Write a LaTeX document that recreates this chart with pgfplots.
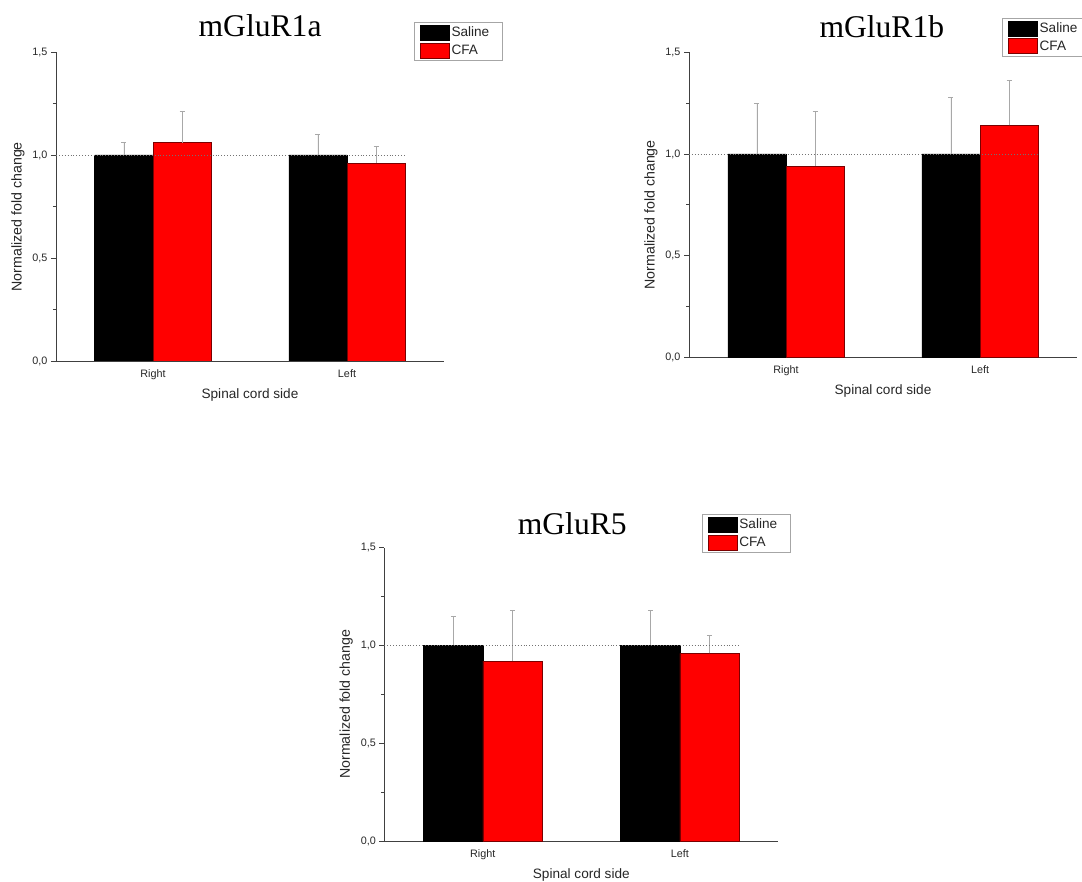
\documentclass[border=0pt]{standalone}
\usepackage{fontspec}
\setmainfont{Liberation Sans}
\newfontfamily\timesf{Liberation Serif}
\usepackage{pgfplots}
\pgfplotsset{compat=1.18}
\usepackage{pgfplotstable}

\definecolor{axisgray}{HTML}{404040}
\definecolor{errgray}{HTML}{A8A8A8}
\definecolor{barred}{HTML}{FF0000}
\definecolor{edgered}{HTML}{7A0000}

% mGluR1a
\pgfplotstableread{
x y e
0 1.00 0.06
1 1.00 0.10
}\salA
\pgfplotstableread{
x y e
0 1.06 0.15
1 0.96 0.08
}\cfaA
% mGluR1b
\pgfplotstableread{
x y e
0 1.00 0.25
1 1.00 0.28
}\salB
\pgfplotstableread{
x y e
0 0.94 0.27
1 1.14 0.22
}\cfaB
% mGluR5
\pgfplotstableread{
x y e
0 1.00 0.15
1 1.00 0.18
}\salC
\pgfplotstableread{
x y e
0 0.92 0.26
1 0.96 0.09
}\cfaC

\pgfplotsset{
  mystyle/.style={
    scale only axis, ybar=0pt,
    axis x line*=bottom, axis y line*=left,
    axis line style={axisgray, line width=0.9pt},
    xmin=-0.5, xmax=1.5, ymin=0, ymax=1.5,
    xtick={0,1}, xticklabels={Right,Left},
    major x tick style={draw=none},
    ytick={0,0.5,1,1.5}, minor y tick num=1,
    tick align=outside, major tick length=5pt, minor tick length=3pt,
    y tick style={axisgray, line width=0.7pt},
    yticklabel style={/pgf/number format/.cd, fixed, fixed zerofill, precision=1, use comma, assume math mode=true},
    tick label style={font=\fontsize{10.8}{12}\selectfont, text=black!85},
    xlabel={Spinal cord side}, ylabel={Normalized fold change},
    every axis x label/.style={at={(axis description cs:0.5,0)}, yshift=-34pt, anchor=center,
      font=\fontsize{13.6}{16}\selectfont, text=black!85},
    every axis y label/.style={at={(axis description cs:0,0.467)}, xshift=-38pt, rotate=90, anchor=center,
      font=\fontsize{14.2}{16}\selectfont, text=black!85},
    title style={font=\timesf\fontsize{31.6}{34}\selectfont, anchor=base},
    legend style={anchor=north west, draw=gray!70, line width=0.8pt, fill=white,
      font=\fontsize{13.6}{15}\selectfont, inner xsep=5.5pt, inner ysep=2.5pt,
      row sep=2pt, cells={anchor=west}, text=black!85,
      /tikz/every even column/.append style={column sep=4pt}},
    legend image code/.code={\draw[#1] (0pt,-7.5pt) rectangle (29pt,7.5pt);},
  },
  errstyle/.style={error bars/.cd, y dir=plus, y explicit,
    error bar style={errgray, line width=0.8pt},
    error mark options={errgray, rotate=90, mark size=2.5pt, line width=0.8pt}},
  salbar/.style={bar shift=-#1, fill=black, draw=black, line width=0.6pt, errstyle},
  cfabar/.style={bar shift=#1, fill=barred, draw=edgered, line width=0.6pt, errstyle},
  refline/.style={sharp plot, no marks, dotted, line width=0.9pt, black!55, forget plot},
}

\begin{document}
\begin{tikzpicture}[x=1pt,y=1pt]
% mGluR1a
\begin{axis}[mystyle, at={(56pt,521pt)}, anchor=south west, width=388pt, height=309pt,
  bar width=58.2pt,
  title={mGluR1a}, title style={at={(axis description cs:0.526,1.031)}},
  legend style={at={(axis description cs:0.9227,1.097)}}]
\addplot[salbar=29.1pt] table[x=x, y=y, y error=e] {\salA};
\addlegendentry{Saline\hspace*{6pt}\mbox{}}
\addplot[cfabar=29.1pt] table[x=x, y=y, y error=e] {\cfaA};
\addlegendentry{CFA}
\addplot[refline] coordinates {(-0.5,1) (1.3,1)};
\end{axis}
% mGluR1b
\begin{axis}[mystyle, at={(689pt,524.7pt)}, anchor=south west, width=388pt, height=305pt,
  bar width=58.2pt,
  title={mGluR1b}, title style={at={(axis description cs:0.497,1.0295)}},
  legend style={at={(axis description cs:0.807,1.1125)}}]
\addplot[salbar=29.1pt] table[x=x, y=y, y error=e] {\salB};
\addlegendentry{Saline\hspace*{6pt}\mbox{}}
\addplot[cfabar=29.1pt] table[x=x, y=y, y error=e] {\cfaB};
\addlegendentry{CFA}
\addplot[refline] coordinates {(-0.5,1) (1.3,1)};
\end{axis}
% mGluR5
\begin{axis}[mystyle, at={(384.3pt,40.7pt)}, anchor=south west, width=394pt, height=293.7pt,
  bar width=59.1pt,
  title={mGluR5}, title style={at={(axis description cs:0.477,1.0235)}},
  legend style={at={(axis description cs:0.806,1.114)}}]
\addplot[salbar=29.55pt] table[x=x, y=y, y error=e] {\salC};
\addlegendentry{Saline\hspace*{6pt}\mbox{}}
\addplot[cfabar=29.55pt] table[x=x, y=y, y error=e] {\cfaC};
\addlegendentry{CFA}
\addplot[refline] coordinates {(-0.5,1) (1.3,1)};
\end{axis}
\pgfresetboundingbox
\useasboundingbox (0,0) rectangle (1082pt,882pt);
\end{tikzpicture}
\end{document}
